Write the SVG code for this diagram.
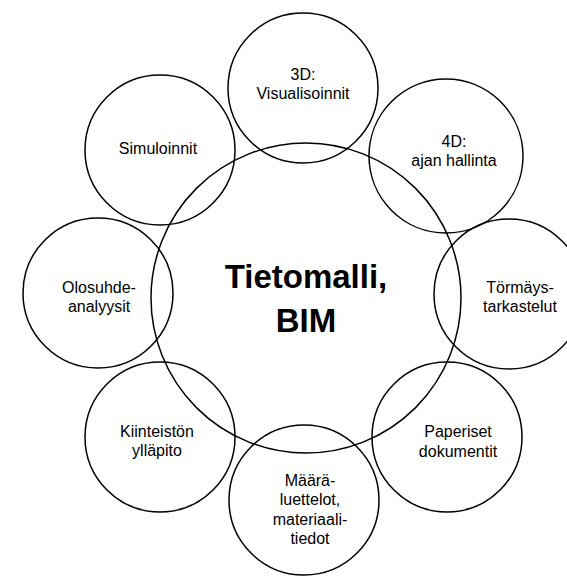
<svg xmlns="http://www.w3.org/2000/svg" width="567" height="576" viewBox="0 0 567 576">
<style>
.c{fill:none;stroke:#000;stroke-width:1.5}
.t{font-family:"Liberation Sans",Arial,Helvetica,sans-serif;font-size:16px;fill:#000;text-anchor:middle}
.m{font-family:"Liberation Sans",Arial,Helvetica,sans-serif;font-size:33px;font-weight:bold;fill:#000;text-anchor:middle}
</style>
<rect width="567" height="576" fill="#fff"/>
<g id="bim">
<circle class="c" cx="306" cy="298" r="155"/>
<text class="m" x="306" y="288">Tietomalli,</text>
<text class="m" x="306" y="332">BIM</text>
</g>
<g id="visualisoinnit">
<circle class="c" cx="303" cy="88" r="75"/>
<text class="t" x="303" y="80">3D:</text>
<text class="t" x="303" y="99">Visualisoinnit</text>
</g>
<g id="ajanhallinta">
<circle class="c" cx="446" cy="156" r="77"/>
<text class="t" x="454" y="147">4D:</text>
<text class="t" x="454" y="166">ajan hallinta</text>
</g>
<g id="tormays">
<circle class="c" cx="509" cy="294" r="75"/>
<text class="t" x="520" y="293">Törmäys-</text>
<text class="t" x="520" y="312">tarkastelut</text>
</g>
<g id="paperiset">
<circle class="c" cx="447" cy="437" r="75"/>
<text class="t" x="458" y="437">Paperiset</text>
<text class="t" x="458" y="457">dokumentit</text>
</g>
<g id="maara">
<circle class="c" cx="304" cy="500" r="75"/>
<text class="t" x="310" y="486">Määrä-</text>
<text class="t" x="310" y="505">luettelot,</text>
<text class="t" x="310" y="525">materiaali-</text>
<text class="t" x="310" y="544">tiedot</text>
</g>
<g id="kiinteisto">
<circle class="c" cx="160" cy="437" r="75"/>
<text class="t" x="157" y="437">Kiinteistön</text>
<text class="t" x="157" y="456">ylläpito</text>
</g>
<g id="olosuhde">
<circle class="c" cx="98" cy="293" r="75"/>
<text class="t" x="99" y="293">Olosuhde-</text>
<text class="t" x="99" y="312">analyysit</text>
</g>
<g id="simuloinnit">
<circle class="c" cx="160" cy="150" r="75"/>
<text class="t" x="158" y="154">Simuloinnit</text>
</g>
<g id="connectors"/>
</svg>
